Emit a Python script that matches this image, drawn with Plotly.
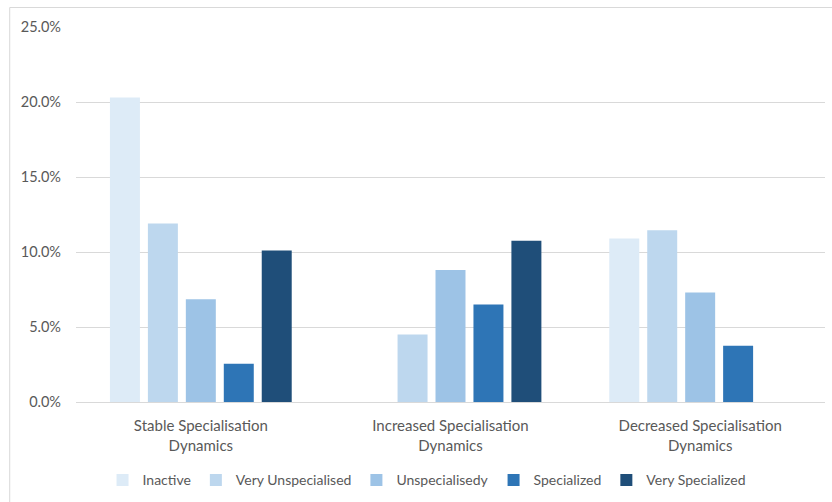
import plotly.graph_objects as go

categories = ["Stable Specialisation<br>Dynamics",
              "Increased Specialisation<br>Dynamics",
              "Decreased Specialisation<br>Dynamics"]

series_names = ["Inactive", "Very Unspecialised", "Unspecialisedy",
                "Specialized", "Very Specialized"]

inactive = [20.3, 0.0, 10.9]
very_unspecialised = [11.9, 4.5, 11.45]
unspecialised = [6.85, 8.8, 7.3]
specialized = [2.55, 6.5, 3.75]
very_specialized = [10.1, 10.75, 0.0]

series_values = [inactive, very_unspecialised, unspecialised,
                 specialized, very_specialized]
colors = ["#DDEBF7", "#BDD7EE", "#9DC3E6", "#2E75B6", "#1F4E79"]

y_ticks = [0, 5, 10, 15, 20, 25]
y_tick_labels = ["0.0%", "5.0%", "10.0%", "15.0%", "20.0%", "25.0%"]

font_family = "Lato, Carlito, 'Open Sans', sans-serif"
text_color = "#595959"
grid_color = "#D9D9D9"

fig = go.Figure()
for name, vals, col in zip(series_names, series_values, colors):
    fig.add_trace(go.Bar(
        x=categories, y=vals, name=name,
        marker=dict(color=col, line=dict(width=0)),
    ))

fig.update_layout(
    width=832, height=502,
    margin=dict(l=76, r=7, t=27, b=99),
    paper_bgcolor="white", plot_bgcolor="white",
    barmode="group", bargap=0.24, bargroupgap=0.21,
    font=dict(family=font_family, size=15, color=text_color),
    showlegend=True,
    legend=dict(orientation="h", x=0.468, xanchor="center",
                y=-0.163, yanchor="top",
                font=dict(size=14, color=text_color),
                itemwidth=30, traceorder="normal"),
    shapes=[dict(type="rect", xref="paper", yref="paper",
                 x0=-0.0885, x1=1.05, y0=-0.35, y1=1.052,
                 line=dict(color="#D9D9D9", width=1),
                 fillcolor="rgba(0,0,0,0)", layer="below")],
)

fig.update_xaxes(
    showgrid=False, showline=True, linecolor=grid_color, linewidth=1,
    ticks="", tickfont=dict(size=15, color=text_color),
    ticklabelstandoff=10,
)
fig.update_yaxes(
    range=[0, 25], tickvals=y_ticks, ticktext=y_tick_labels,
    showgrid=True, gridcolor=grid_color, gridwidth=1,
    zeroline=False, showline=False, ticks="",
    tickfont=dict(size=14.5, color=text_color),
    ticklabelstandoff=14,
)

fig.write_html("out.html")
